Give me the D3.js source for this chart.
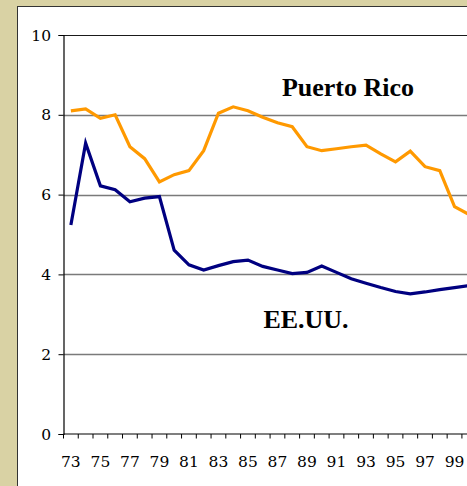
<!DOCTYPE html>
<html>
<head>
<meta charset="utf-8">
<script src="https://cdn.jsdelivr.net/npm/d3@7"></script>
<style>
html,body{margin:0;padding:0;background:#D9D2A4;overflow:hidden;}
svg{display:block;}
</style>
</head>
<body>
<svg id="chart" width="467" height="486"></svg>
<script>
const years = ["73","74","75","76","77","78","79","80","81","82","83","84","85","86","87","88","89","90","91","92","93","94","95","96","97","98","99","00"];
const puertoRico = [8.1,8.15,7.91,8.0,7.2,6.9,6.32,6.5,6.6,7.1,8.04,8.2,8.1,7.94,7.8,7.7,7.2,7.1,7.15,7.2,7.24,7.02,6.82,7.09,6.7,6.6,5.7,5.5];
const eeuu = [5.24,7.29,6.22,6.12,5.82,5.91,5.95,4.61,4.24,4.11,4.22,4.32,4.36,4.2,4.11,4.02,4.05,4.21,4.05,3.89,3.78,3.67,3.57,3.51,3.56,3.62,3.67,3.72];
const yTicks = [0,2,4,6,8,10];
const xTickLabels = ["73","75","77","79","81","83","85","87","89","91","93","95","97","99"];
const seriesNames = ["Puerto Rico","EE.UU."];

const svg = d3.select("#chart");

svg.append("rect").attr("x",17.5).attr("y",6.5).attr("width",470).attr("height",500)
  .attr("fill","#fff").attr("stroke","#333").attr("stroke-width",1);

const x0 = 63.5, step = 14.756;
const x = d3.scaleBand().domain(years).range([x0, x0 + step*years.length]).paddingInner(0).paddingOuter(0);
const y = d3.scaleLinear().domain([0,10]).range([434,35]);

svg.append("defs").append("clipPath").attr("id","clip")
  .append("rect").attr("x",18).attr("y",7).attr("width",449).attr("height",479);

const g = svg.append("g").attr("clip-path","url(#clip)");

g.selectAll(".grid").data(yTicks.filter(d=>d>0)).join("line")
  .attr("x1",x0).attr("x2",480)
  .attr("y1",d=>Math.round(y(d))+0.5).attr("y2",d=>Math.round(y(d))+0.5)
  .attr("stroke",d=>d===10?"#1a1a1a":"#7a7a7a").attr("stroke-width",d=>d===10?1.2:1.6);

const yAxis = d3.axisLeft(y).tickValues(yTicks).tickSize(5).tickFormat("");
const ya = g.append("g").attr("transform",`translate(${x0},0)`).call(yAxis);
ya.select(".domain").attr("stroke","#000").attr("stroke-width",1.2);
ya.selectAll(".tick line").attr("stroke","#000");

const xa = g.append("g").attr("transform",`translate(0,${y(0)})`);
xa.append("line").attr("x1",x0).attr("x2",480).attr("y1",0).attr("y2",0).attr("stroke","#000").attr("stroke-width",1.2);
const edges = years.map(d=>x(d)).concat([x(years[years.length-1])+x.bandwidth()]);
xa.selectAll(".xt").data(edges).join("line")
  .attr("x1",d=>d).attr("x2",d=>d).attr("y1",0).attr("y2",4.5).attr("stroke","#000");

const line = d3.line().x((d,i)=>x(years[i])+x.bandwidth()/2).y(d=>y(d));
g.append("path").datum(puertoRico).attr("d",line).attr("fill","none")
  .attr("stroke","#FF9900").attr("stroke-width",3.2).attr("stroke-linejoin","miter");
g.append("path").datum(eeuu).attr("d",line).attr("fill","none")
  .attr("stroke","#000080").attr("stroke-width",3.2).attr("stroke-linejoin","miter");

svg.selectAll(".yl").data(yTicks).join("text")
  .attr("x",51).attr("y",d=>y(d)+5.5)
  .attr("text-anchor","end")
  .attr("font-family","DejaVu Serif").attr("font-size",15.5).attr("fill","#000")
  .text(d=>d);
svg.selectAll(".xl").data(xTickLabels).join("text")
  .attr("x",d=>x(d)+x.bandwidth()/2).attr("y",466.5)
  .attr("text-anchor","middle")
  .attr("font-family","DejaVu Serif").attr("font-size",15.5).attr("fill","#000")
  .text(d=>d);

svg.append("text").attr("x",348).attr("y",96).attr("text-anchor","middle")
  .attr("font-family","Liberation Serif").attr("font-size",26).attr("font-weight","bold").attr("fill","#000")
  .text(seriesNames[0]);
svg.append("text").attr("x",306).attr("y",327.5).attr("text-anchor","middle")
  .attr("font-family","Liberation Serif").attr("font-size",26).attr("font-weight","bold").attr("fill","#000")
  .text(seriesNames[1]);
</script>
</body>
</html>
